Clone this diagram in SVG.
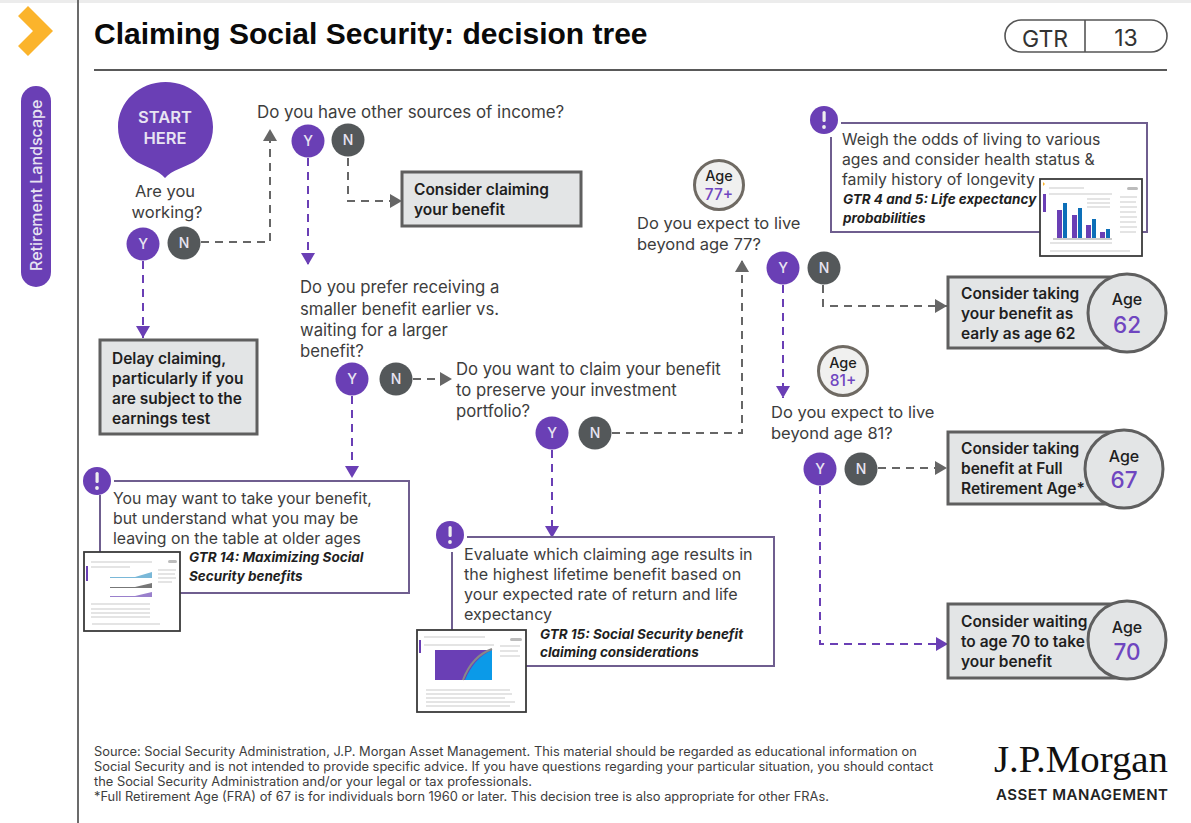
<svg xmlns="http://www.w3.org/2000/svg" width="1191" height="823" viewBox="0 0 1191 823">
<style>
text{font-family:"Inter","Liberation Sans",sans-serif}
.q{font-size:16.5px;fill:#3d3d3d}
.n{font-size:15.800px;fill:#3d3d3d}
.e{font-size:16.100px;fill:#3d3d3d}
.b{font-size:15.500px;font-weight:600;fill:#1f1f1f}
.i{font-size:13.500px;font-weight:700;font-style:italic;fill:#1f1f1f}
.yc{fill:#6a3fb5}.nc{fill:#54585a}
.yn{font-size:14px;font-weight:500;fill:#e8e4f2;text-anchor:middle}
.box{fill:#e3e5e6;stroke:#5f5f5f;stroke-width:3}
.agec{fill:#e3e5e6;stroke:#5f5f5f;stroke-width:3}
.age{font-size:16px;font-weight:500;fill:#1f1f1f;text-anchor:middle}
.ages{font-size:14.500px;font-weight:500;fill:#1f1f1f;text-anchor:middle}
.agen{font-size:22.500px;font-weight:500;fill:#6f46c0;text-anchor:middle}
.agep{font-size:15.500px;font-weight:500;fill:#6f46c0;text-anchor:middle}
.agem{fill:#f0f0ef;stroke:#6f6a63;stroke-width:3}
.cl{fill:none;stroke:#6f5e8f;stroke-width:2}
.th{fill:#fff;stroke:#3a3a3a;stroke-width:1.800}
.dy{fill:none;stroke:#6a3fb5;stroke-width:2;stroke-dasharray:8 6;marker-end:url(#ay)}
.dn{fill:none;stroke:#666;stroke-width:2;stroke-dasharray:8 6;marker-end:url(#an)}
.f{font-size:12.850px;fill:#3d3d3d}
.tl{stroke:#c9c9c9;stroke-width:1}
.tk{fill:#bcbcbc}
</style>
<defs>
<marker id="ay" markerUnits="userSpaceOnUse" markerWidth="14" markerHeight="14" refX="12" refY="7" orient="auto"><path d="M0 0L12 7L0 14Z" fill="#6a3fb5"/></marker>
<marker id="an" markerUnits="userSpaceOnUse" markerWidth="14" markerHeight="14" refX="12" refY="7" orient="auto"><path d="M0 0L12 7L0 14Z" fill="#666"/></marker>
</defs>
<rect width="1191" height="823" fill="#fff"/>
<rect width="1191" height="3" fill="#ececec"/>
<g id="sidebar">
<path d="M78 0V823" stroke="#6b6b6b" stroke-width="2"/>
<path d="M28 6L53 31L28 56L18 46L33 31L18 16Z" fill="#fbb42c"/>
<rect x="21" y="86" width="30" height="201" rx="15" fill="#6a3fb5"/>
<text transform="translate(42 271) rotate(-90)" font-size="16" fill="#e8e4f2" font-weight="500">Retirement Landscape</text>
</g>
<g id="header">
<text x="94" y="44" font-size="30" font-weight="700" fill="#0a0a0a" style="font-family:'Liberation Sans',sans-serif">Claiming Social Security: decision tree</text>
<path d="M94 70H1167" stroke="#222" stroke-width="1.500"/>
<rect x="1005" y="20" width="162" height="32" rx="16" fill="#fff" stroke="#555" stroke-width="1.600"/>
<path d="M1085 20V52" stroke="#555" stroke-width="1.600"/>
<text x="1045" y="47" font-size="23" fill="#333" text-anchor="middle">GTR</text>
<text x="1126" y="46" font-size="23" fill="#333" text-anchor="middle">13</text>
</g>
<g id="connectors">
<path class="dn" d="M201 242H270V129"/>
<path class="dy" d="M143 261V338"/>
<path class="dy" d="M308 158V265"/>
<path class="dn" d="M348 158V201H402"/>
<path class="dy" d="M352 396V478"/>
<path class="dn" d="M413 379H452"/>
<path class="dy" d="M552 450V538"/>
<path class="dn" d="M612 433H742V260"/>
<path class="dy" d="M783 285V398"/>
<path class="dn" d="M823 285V306H947"/>
<path class="dy" d="M820 486V644H948"/>
<path class="dn" d="M878 468H947"/>
</g>
<g id="start">
<path d="M165 178C158 170 146 167 137 162C125 155 118 142 118 127C118 102 139 82 165.500 82C192 82 213 102 213 127C213 142 206 155 194 162C185 167 172 170 165 178Z" fill="#6a3fb5"/>
<text x="165" y="123" font-size="16.500" font-weight="600" fill="#e8e4f2" text-anchor="middle">START</text>
<text x="165" y="144" font-size="16.500" font-weight="600" fill="#e8e4f2" text-anchor="middle">HERE</text>
</g>
<g id="q-working">
<text class="q" x="165" y="197" text-anchor="middle">Are you</text>
<text class="q" x="167" y="218" text-anchor="middle">working?</text>
<circle class="yc" cx="143" cy="244" r="16.500"/><text class="yn" x="143" y="249">Y</text>
<circle class="nc" cx="184" cy="243" r="16.500"/><text class="yn" x="184" y="248">N</text>
</g>
<g id="q-income">
<text class="q" x="257" y="118" style="font-size:16.900px">Do you have other sources of income?</text>
<circle class="yc" cx="308" cy="141" r="16.500"/><text class="yn" x="308" y="146">Y</text>
<circle class="nc" cx="348" cy="140" r="16.500"/><text class="yn" x="348" y="145">N</text>
</g>
<g id="q-prefer">
<text class="q" x="300" y="293" style="font-size:16.700px">Do you prefer receiving a</text>
<text class="q" x="300" y="315" style="font-size:16.700px">smaller benefit earlier vs.</text>
<text class="q" x="300" y="336" style="font-size:16.700px">waiting for a larger</text>
<text class="q" x="300" y="357" style="font-size:16.700px">benefit?</text>
<circle class="yc" cx="352" cy="379" r="16.500"/><text class="yn" x="352" y="384">Y</text>
<circle class="nc" cx="396" cy="379" r="16.500"/><text class="yn" x="396" y="384">N</text>
</g>
<g id="q-portfolio">
<text class="q" x="456" y="375" style="font-size:16.700px">Do you want to claim your benefit</text>
<text class="q" x="456" y="396" style="font-size:16.700px">to preserve your investment</text>
<text class="q" x="456" y="417" style="font-size:16.700px">portfolio?</text>
<circle class="yc" cx="552" cy="433" r="16.500"/><text class="yn" x="552" y="438">Y</text>
<circle class="nc" cx="595" cy="433" r="16.500"/><text class="yn" x="595" y="438">N</text>
</g>
<g id="q-77">
<circle class="agem" cx="719" cy="185" r="24.500"/>
<text class="ages" x="719" y="181">Age</text>
<text class="agep" x="719" y="200">77+</text>
<text class="q" x="637" y="229">Do you expect to live</text>
<text class="q" x="637" y="250">beyond age 77?</text>
<circle class="yc" cx="783" cy="268" r="16.500"/><text class="yn" x="783" y="273">Y</text>
<circle class="nc" cx="824" cy="268" r="16.500"/><text class="yn" x="824" y="273">N</text>
</g>
<g id="q-81">
<circle class="agem" cx="843" cy="371" r="24.500"/>
<text class="ages" x="843" y="368">Age</text>
<text class="agep" x="843" y="386">81+</text>
<text class="q" x="771" y="418">Do you expect to live</text>
<text class="q" x="771" y="439">beyond age 81?</text>
<circle class="yc" cx="820" cy="469" r="16.500"/><text class="yn" x="820" y="474">Y</text>
<circle class="nc" cx="861" cy="469" r="16.500"/><text class="yn" x="861" y="474">N</text>
</g>
<g id="box-claim">
<rect class="box" x="402" y="172" width="179" height="54"/>
<text class="b" x="414" y="195">Consider claiming</text>
<text class="b" x="414" y="215">your benefit</text>
</g>
<g id="box-delay">
<rect class="box" x="100" y="340" width="157" height="94"/>
<text class="b" x="112" y="364">Delay claiming,</text>
<text class="b" x="112" y="384">particularly if you</text>
<text class="b" x="112" y="404">are subject to the</text>
<text class="b" x="112" y="424">earnings test</text>
</g>
<g id="out-62">
<rect class="box" x="948" y="277" width="176" height="71"/>
<circle class="agec" cx="1127" cy="313" r="39"/>
<text class="b" x="961" y="299">Consider taking</text>
<text class="b" x="961" y="319">your benefit as</text>
<text class="b" x="961" y="339">early as age 62</text>
<text class="age" x="1127" y="305">Age</text>
<text class="agen" x="1127" y="333">62</text>
</g>
<g id="out-67">
<rect class="box" x="948" y="432" width="176" height="72"/>
<circle class="agec" cx="1124" cy="469" r="39"/>
<text class="b" x="961" y="454">Consider taking</text>
<text class="b" x="961" y="474">benefit at Full</text>
<text class="b" x="961" y="494">Retirement Age*</text>
<text class="age" x="1124" y="462">Age</text>
<text class="agen" x="1124" y="488">67</text>
</g>
<g id="out-70">
<rect class="box" x="948" y="604" width="176" height="74"/>
<circle class="agec" cx="1127" cy="640" r="39"/>
<text class="b" x="961" y="627">Consider waiting</text>
<text class="b" x="961" y="647">to age 70 to take</text>
<text class="b" x="961" y="667">your benefit</text>
<text class="age" x="1127" y="633">Age</text>
<text class="agen" x="1127" y="660">70</text>
</g>
<g id="note-weigh">
<path class="cl" d="M841 123H1147V232H831V137"/>
<circle class="yc" cx="824" cy="120" r="14"/>
<rect x="822.500" y="111" width="3.200" height="11" rx="1.500" fill="#eee"/><circle cx="824" cy="127" r="1.900" fill="#eee"/>
<text class="n" x="842" y="145">Weigh the odds of living to various</text>
<text class="n" x="842" y="165">ages and consider health status &amp;</text>
<text class="n" x="842" y="185">family history of longevity</text>
<text class="i" x="843" y="204">GTR 4 and 5: Life expectancy</text>
<text class="i" x="843" y="223">probabilities</text>
<rect class="th" x="1040" y="179" width="102" height="77"/>
<rect x="1043" y="194" width="3" height="18" fill="#6a3fb5"/>
<path d="M1043 182l2 2l-2 2z" fill="#fbb42c"/>
<rect class="tk" x="1127" y="187" width="11" height="3" rx="1.500"/>
<path class="tl" d="M1049 188H1084M1049 194H1112M1087 199H1110M1087 203H1110M1087 207H1110M1120 197H1137M1120 202H1136M1120 207H1137M1120 212H1136M1120 217H1137M1120 222H1136M1120 227H1137M1120 232H1136M1050 251H1130M1050 243H1112"/>
<path d="M1053 239H1112" stroke="#999" stroke-width="1"/>
<g fill="#6a3fb5"><rect x="1057" y="210" width="5" height="28"/><rect x="1072" y="215" width="5" height="23"/><rect x="1086" y="225" width="5" height="13"/><rect x="1100" y="232" width="5" height="6"/></g>
<g fill="#0d6fb8"><rect x="1063" y="203" width="4" height="35"/><rect x="1078" y="208" width="4" height="30"/><rect x="1092" y="219" width="4" height="19"/><rect x="1106" y="229" width="4" height="9"/></g>
</g>
<g id="note-may">
<path class="cl" d="M114 481H409V593H180M100 495V552"/>
<circle class="yc" cx="97" cy="481" r="14"/>
<rect x="95.500" y="472" width="3.200" height="11" rx="1.500" fill="#eee"/><circle cx="97" cy="488" r="1.900" fill="#eee"/>
<text class="n" x="113" y="504">You may want to take your benefit,</text>
<text class="n" x="113" y="524">but understand what you may be</text>
<text class="n" x="113" y="544">leaving on the table at older ages</text>
<text class="i" x="189" y="562">GTR 14: Maximizing Social</text>
<text class="i" x="189" y="581">Security benefits</text>
<rect class="th" x="84" y="552" width="96" height="79"/>
<rect x="86" y="566" width="2" height="15" fill="#6a3fb5"/>
<rect class="tk" x="168" y="560" width="9" height="3" rx="1.500"/>
<path class="tl" d="M91 562H152M91 567H130M158 570H176M158 574H175M158 578H176M158 582H172M91 604H150M91 609H150M91 613H150M91 617H150M92 624H160"/>
<path d="M110 577L135 577L152 572V578H110Z" fill="#7ab8d8"/><path d="M110 587L135 587L152 583V588H110Z" fill="#777"/><path d="M110 596L135 596L152 592V597H110Z" fill="#9a80cc"/>
</g>
<g id="note-eval">
<path class="cl" d="M467 537H774V666H526M452 552V630"/>
<circle class="yc" cx="450" cy="535" r="14"/>
<rect x="448.500" y="526" width="3.200" height="11" rx="1.500" fill="#eee"/><circle cx="450" cy="542" r="1.900" fill="#eee"/>
<text class="e" x="464" y="560">Evaluate which claiming age results in</text>
<text class="e" x="464" y="580">the highest lifetime benefit based on</text>
<text class="e" x="464" y="600">your expected rate of return and life</text>
<text class="e" x="464" y="620">expectancy</text>
<text class="i" x="540" y="639">GTR 15: Social Security benefit</text>
<text class="i" x="540" y="657">claiming considerations</text>
<rect class="th" x="417" y="630" width="109" height="82"/>
<rect x="419" y="640" width="2" height="13" fill="#6a3fb5"/>
<rect class="tk" x="510" y="638" width="12" height="3" rx="1.500"/>
<rect x="435" y="650" width="57" height="30" fill="#6a3fb5"/>
<path d="M465 680Q474 658 492 650V680Z" fill="#0b9ae8"/>
<path d="M463 680Q472 656 492 649" fill="none" stroke="#888" stroke-width="2"/>
<path class="tl" d="M424 637H485M424 645H494M500 646H520M500 651H518M500 656H520M426 690H510M426 694H512M426 698H505M426 702H515M426 706H510"/>
</g>
<g id="footer">
<text class="f" x="94" y="756">Source: Social Security Administration, J.P. Morgan Asset Management. This material should be regarded as educational information on</text>
<text class="f" x="94" y="771">Social Security and is not intended to provide specific advice. If you have questions regarding your particular situation, you should contact</text>
<text class="f" x="94" y="786">the Social Security Administration and/or your legal or tax professionals.</text>
<text class="f" x="94" y="801">*Full Retirement Age (FRA) of 67 is for individuals born 1960 or later. This decision tree is also appropriate for other FRAs.</text>
</g>
<g id="logo">
<text x="994" y="772" font-size="37" fill="#111" style="font-family:'Liberation Serif',serif" textLength="174" lengthAdjust="spacingAndGlyphs">J.P.Morgan</text>
<text x="996" y="800" font-size="15" font-weight="600" fill="#222" textLength="172">ASSET MANAGEMENT</text>
</g>
</svg>
